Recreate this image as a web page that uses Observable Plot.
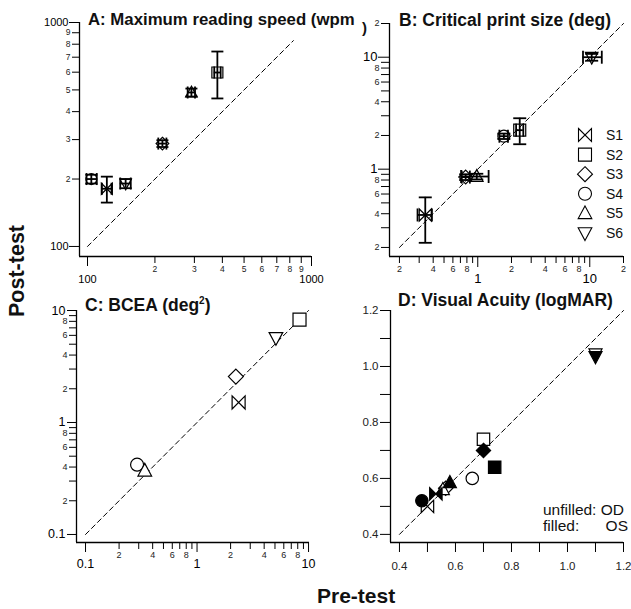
<!DOCTYPE html>
<html><head><meta charset="utf-8">
<script src="https://cdn.jsdelivr.net/npm/d3@7"></script>
<script src="https://cdn.jsdelivr.net/npm/@observablehq/plot@0.6"></script>
<style>
body{margin:0;background:#fff}
#wrap{position:relative;width:631px;height:609px;overflow:hidden;background:#fff}
.pn{position:absolute}
.pn svg{overflow:visible}
</style></head><body><div id="wrap"></div>
<script>
const subjects = ["S1","S2","S3","S4","S5","S6"];

// A: Maximum reading speed (wpm)
const speedPre    = [122, 380, 216, 104, 291, 148];
const speedPost   = [181, 598, 288, 200, 487, 191];
const speedPreLo  = [116, 368, 207,  99, 280, 140];
const speedPreHi  = [128, 393, 225, 110, 302, 156];
const speedPostLo = [157, 458, 278, 191, 467, 182];
const speedPostHi = [205, 742, 298, 209, 507, 200];

// B: Critical print size (deg)
const cpsPre    = [0.34, 2.37, 0.78, 1.71, 0.98, 10.4];
const cpsPost   = [0.39, 2.23, 0.85, 1.97, 0.86, 10.0];
const cpsPreLo  = [0.29, 2.20, 0.72, 1.56, 0.71, 8.7];
const cpsPreHi  = [0.39, 2.55, 0.85, 1.86, 1.25, 12.8];
const cpsPostLo = [0.22, 1.67, 0.80, 1.86, 0.81, 9.3];
const cpsPostHi = [0.56, 2.85, 0.90, 2.08, 0.91, 10.7];

// C: BCEA (deg^2)
const bceaPre  = [2.36, 8.3, 2.23, 0.29, 0.34, 5.1];
const bceaPost = [1.51, 8.3, 2.57, 0.42, 0.37, 5.7];

// D: Visual acuity (logMAR), OD unfilled, OS filled
const acuityPreOD  = [0.50, 0.70, 0.565, 0.66, 0.555, 1.10];
const acuityPostOD = [0.50, 0.74, 0.565, 0.60, 0.56, 1.045];
const acuityPreOS  = [0.53, 0.74, 0.70, 0.48, 0.58, 1.10];
const acuityPostOS = [0.545, 0.64, 0.70, 0.52, 0.585, 1.035];

// identity lines
const identA = [100, 830];
const identB = [0.2, 20];
const identC = [0.1, 10];
const identD = [0.4, 1.2];

// ticks
const ticksAMinor = [200, 300, 400, 500, 600, 700, 800, 900];
const ticksAMajor = [100, 1000];
const ticksBMinor = [0.2,0.3,0.4,0.5,0.6,0.7,0.8,0.9,2,3,4,5,6,7,8,9,20];
const ticksBMajor = [1, 10];
const ticksCMinor = [0.2,0.3,0.4,0.5,0.6,0.7,0.8,0.9,2,3,4,5,6,7,8,9];
const ticksCMajor = [0.1, 1, 10];
const ticksD = [0.4,0.5,0.6,0.7,0.8,0.9,1.0,1.1,1.2];
const labelsD = [0.4,0.6,0.8,1.0,1.2];

const FONT = "'Liberation Sans', Arial, Helvetica, sans-serif";
const wrap = document.getElementById("wrap");

function mkSym(fn){ return {draw(c, size){ fn(c, Math.sqrt(size/Math.PI)); }}; }
const symbols = {
  S1: mkSym((c,r)=>{c.moveTo(-r,-r);c.lineTo(r,r);c.lineTo(r,-r);c.lineTo(-r,r);c.closePath();}),
  S2: mkSym((c,r)=>{c.moveTo(-r,-r);c.lineTo(r,-r);c.lineTo(r,r);c.lineTo(-r,r);c.closePath();}),
  S3: mkSym((c,r)=>{const q=r*1.15;c.moveTo(0,-q);c.lineTo(q,0);c.lineTo(0,q);c.lineTo(-q,0);c.closePath();}),
  S4: mkSym((c,r)=>{c.moveTo(r,0);c.arc(0,0,r,0,2*Math.PI);c.closePath();}),
  S5: mkSym((c,r)=>{c.moveTo(0,-r*1.15);c.lineTo(r*1.05,r*0.8);c.lineTo(-r*1.05,r*0.8);c.closePath();}),
  S6: mkSym((c,r)=>{c.moveTo(0,r*1.15);c.lineTo(r*1.05,-r*0.8);c.lineTo(-r*1.05,-r*0.8);c.closePath();})
};
const hcap = mkSym((c,r)=>{c.moveTo(-r,0);c.lineTo(r,0);});
const vcap = mkSym((c,r)=>{c.moveTo(0,-r);c.lineTo(0,r);});

function mantissa(d){ return Math.round(d / Math.pow(10, Math.floor(Math.log10(d) + 1e-9))); }
const allFmt = d => String(mantissa(d));
const evenFmt = d => { const m = mantissa(d); return m % 2 === 0 ? String(m) : ""; };
const blank = () => "";

// minor tick marks + their labels (labels drawn as text marks positioned by the scale)
function minorX(ticks, fmt, size, pad, fs){
  return [
    Plot.axisX({ticks, tickFormat: blank, tickSize: size, label: null}),
    Plot.text(ticks, {x: d => d, text: fmt, frameAnchor: "bottom", lineAnchor: "top", dy: size + pad, fontSize: fs, fill: "#222"})
  ];
}
function minorY(ticks, fmt, size, pad, fs){
  return [
    Plot.axisY({ticks, tickFormat: blank, tickSize: size, label: null}),
    Plot.text(ticks, {y: d => d, text: fmt, frameAnchor: "left", textAnchor: "end", dx: -(size + pad), fontSize: fs, fill: "#222"})
  ];
}

function symbolMarks(rows, r, fill){
  return subjects.map(s => Plot.dot(rows.filter(d => d.s === s), {
    x: "x", y: "y", symbol: symbols[s], r, stroke: "black", strokeWidth: 1.2, fill
  }));
}
function errorMarks(rows, cap){
  const o = {stroke: "black", strokeWidth: 1.8};
  return [
    Plot.ruleX(rows, {x: "x", y1: "ylo", y2: "yhi", ...o}),
    Plot.ruleY(rows, {y: "y", x1: "xlo", x2: "xhi", ...o}),
    Plot.dot(rows, {x: "x", y: "ylo", symbol: hcap, r: cap, fill: "none", ...o}),
    Plot.dot(rows, {x: "x", y: "yhi", symbol: hcap, r: cap, fill: "none", ...o}),
    Plot.dot(rows, {x: "xlo", y: "y", symbol: vcap, r: cap, fill: "none", ...o}),
    Plot.dot(rows, {x: "xhi", y: "y", symbol: vcap, r: cap, fill: "none", ...o})
  ];
}
function frameLines(xd, yd){
  return [
    Plot.ruleX([xd[0]], {stroke: "black", strokeWidth: 1.3}),
    Plot.ruleY([yd[0]], {stroke: "black", strokeWidth: 1.3})
  ];
}
function idLine(v){
  return Plot.line(v.map(a => [a, a]), {stroke: "black", strokeWidth: 1, strokeDasharray: "5,3.5"});
}
function panel(p){
  const svg = Plot.plot({
    width: p.width, height: p.height,
    marginLeft: p.mL, marginRight: p.mR, marginTop: p.mT, marginBottom: p.mB,
    x: p.x, y: p.y,
    style: {fontFamily: FONT, background: "transparent", color: "black", overflow: "visible"},
    marks: p.marks
  });
  const div = document.createElement("div");
  div.className = "pn";
  div.style.left = p.left + "px";
  div.style.top = p.top + "px";
  div.append(svg);
  wrap.append(div);
}

// ---------- Panel A ----------
const rowsA = subjects.map((s, i) => ({s, x: speedPre[i], y: speedPost[i],
  xlo: speedPreLo[i], xhi: speedPreHi[i], ylo: speedPostLo[i], yhi: speedPostHi[i]}));
const xdA = [92.1, 1000], ydA = [90.2, 1000];
panel({
  left: 0, top: 0, width: 318, height: 295, mL: 79, mR: 7, mT: 22, mB: 39,
  x: {type: "log", domain: xdA}, y: {type: "log", domain: ydA},
  marks: [
    ...frameLines(xdA, ydA),
    ...minorX(ticksAMinor, allFmt, 7, 2, 8.5),
    Plot.axisX({ticks: ticksAMajor, tickFormat: d => String(d), tickSize: 10, tickPadding: 9, fontSize: 11, label: null}),
    ...minorY(ticksAMinor, allFmt, 7, 2, 8.5),
    Plot.axisY({ticks: ticksAMajor, tickFormat: d => String(d), tickSize: 10, tickPadding: 1, fontSize: 11, label: null}),
    idLine(identA),
    ...symbolMarks(rowsA, 5.5, "none"),
    ...errorMarks(rowsA, 6)
  ]
});

// ---------- Panel B ----------
const rowsB = subjects.map((s, i) => ({s, x: cpsPre[i], y: cpsPost[i],
  xlo: cpsPreLo[i], xhi: cpsPreHi[i], ylo: cpsPostLo[i], yhi: cpsPostHi[i]}));
const xdB = [0.163, 20], ydB = [0.166, 20];
panel({
  left: 318, top: 0, width: 313, height: 295, mL: 71, mR: 8, mT: 23, mB: 39,
  x: {type: "log", domain: xdB}, y: {type: "log", domain: ydB},
  marks: [
    ...frameLines(xdB, ydB),
    ...minorX(ticksBMinor, evenFmt, 7, 2, 9),
    Plot.axisX({ticks: ticksBMajor, tickFormat: d => String(d), tickSize: 11, tickPadding: 6, fontSize: 13, label: null}),
    ...minorY(ticksBMinor, evenFmt, 8, 2, 9),
    Plot.axisY({ticks: ticksBMajor, tickFormat: d => String(d), tickSize: 11, tickPadding: 1, fontSize: 13, label: null}),
    idLine(identB),
    ...symbolMarks(rowsB, 6, "none"),
    ...errorMarks(rowsB, 6.5)
  ]
});

// ---------- Panel C ----------
const rowsC = subjects.map((s, i) => ({s, x: bceaPre[i], y: bceaPost[i]}));
const xdC = [0.083, 10.2], ydC = [0.0848, 10];
panel({
  left: 0, top: 295, width: 318, height: 295, mL: 76, mR: 9, mT: 15, mB: 48,
  x: {type: "log", domain: xdC}, y: {type: "log", domain: ydC},
  marks: [
    ...frameLines(xdC, ydC),
    ...minorX(ticksCMinor, evenFmt, 7, 2.5, 9),
    Plot.axisX({ticks: ticksCMajor, tickFormat: d => String(d), tickSize: 10, tickPadding: 7, fontSize: 12.5, label: null}),
    ...minorY(ticksCMinor, evenFmt, 7, 2, 9),
    Plot.axisY({ticks: ticksCMajor, tickFormat: d => String(d), tickSize: 9, tickPadding: 2, fontSize: 12.5, label: null}),
    idLine(identC),
    ...symbolMarks(rowsC, 6.5, "white")
  ]
});

// ---------- Panel D ----------
const rowsDOD = subjects.map((s, i) => ({s, x: acuityPreOD[i], y: acuityPostOD[i]}));
const rowsDOS = subjects.map((s, i) => ({s, x: acuityPreOS[i], y: acuityPostOS[i]}));
const xdD = [0.368, 1.2], ydD = [0.371, 1.2];
const fmtD = d => labelsD.some(v => Math.abs(v - d) < 1e-6) ? d3.format(".1f")(d) : "";
panel({
  left: 318, top: 295, width: 313, height: 295, mL: 72, mR: 8, mT: 15, mB: 48,
  x: {type: "linear", domain: xdD}, y: {type: "linear", domain: ydD},
  marks: [
    ...frameLines(xdD, ydD),
    Plot.axisX({ticks: ticksD, tickFormat: fmtD, tickSize: 10, tickPadding: 9, fontSize: 11.5, label: null, fill: "#222"}),
    Plot.axisY({ticks: ticksD, tickFormat: fmtD, tickSize: 10, tickPadding: 2, fontSize: 11.5, label: null, fill: "#222"}),
    idLine(identD),
    ...symbolMarks(rowsDOD, 6.2, "white"),
    ...symbolMarks(rowsDOS, 6.2, "black")
  ]
});

// ---------- Overlay text: titles, axis titles, legend ----------
const ov = d3.select(wrap).append("svg")
  .attr("width", 631).attr("height", 609)
  .style("position", "absolute").style("left", "0px").style("top", "0px")
  .style("pointer-events", "none")
  .style("font-family", FONT);

const titleStyle = (t, fs) => t.attr("font-weight", "bold").attr("font-size", fs || 17.5).attr("fill", "#111");
titleStyle(ov.append("text").attr("x", 88).attr("y", 25).text("A: Maximum reading speed (wpm"), 16.8);
titleStyle(ov.append("text").attr("x", 362).attr("y", 33).text(")"), 15);
titleStyle(ov.append("text").attr("x", 399).attr("y", 26).text("B: Critical print size (deg)"));
const tc = titleStyle(ov.append("text").attr("x", 85).attr("y", 311));
tc.append("tspan").text("C: BCEA (deg");
tc.append("tspan").attr("font-size", 10).attr("dy", -7).text("2");
tc.append("tspan").attr("dy", 7).text(")");
titleStyle(ov.append("text").attr("x", 398).attr("y", 306).text("D: Visual Acuity (logMAR)"));

ov.append("text").attr("transform", "translate(24,271) rotate(-90)")
  .attr("text-anchor", "middle").attr("font-weight", "bold").attr("font-size", 21.5)
  .attr("fill", "#111").text("Post-test");
ov.append("text").attr("x", 317).attr("y", 603)
  .attr("font-weight", "bold").attr("font-size", 21).attr("fill", "#111").text("Pre-test");

// legend (panel B)
subjects.forEach((s, i) => {
  const cy = 135 + i * 19.6;
  ov.append("path").attr("d", d3.symbol(symbols[s], 6.5 * 6.5 * Math.PI)())
    .attr("transform", `translate(585,${cy})`)
    .attr("fill", "none").attr("stroke", "black").attr("stroke-width", 1.1);
  ov.append("text").attr("x", 606).attr("y", cy + 5).attr("font-size", 14).attr("fill", "#111").text(s);
});

// eye note (panel D)
ov.append("text").attr("x", 543).attr("y", 515).attr("font-size", 15.5).attr("fill", "#111").text("unfilled: OD");
ov.append("text").attr("x", 543).attr("y", 531).attr("font-size", 15.5).attr("fill", "#111").text("filled:");
ov.append("text").attr("x", 628).attr("y", 531).attr("text-anchor", "end").attr("font-size", 15.5).attr("fill", "#111").text("OS");
</script></body></html>
